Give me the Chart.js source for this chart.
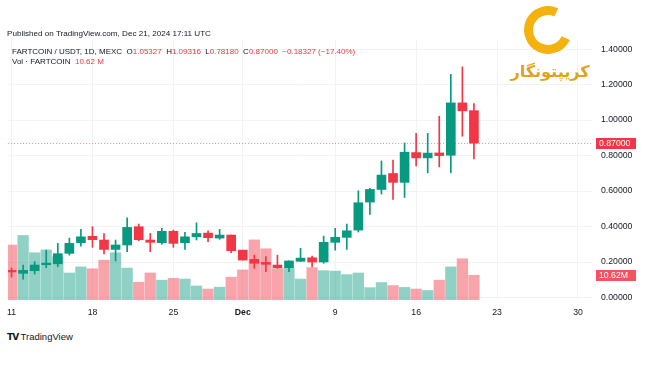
<!DOCTYPE html>
<html>
<head>
<meta charset="utf-8">
<script src="https://cdn.jsdelivr.net/npm/chart.js@4.4.1/dist/chart.umd.min.js"></script>
<style>
  body { margin: 0; width: 650px; height: 365px; background: #fff; position: relative; overflow: hidden;
         font-family: "Liberation Sans", Arial, sans-serif; color: #131722; }
  #wrap { position: absolute; left: 0; top: 0; width: 650px; height: 322px; }
  .txt { position: absolute; white-space: nowrap; line-height: 12px; z-index: 2; }
  .red { color: #f23645; }
  #logo { position: absolute; left: 524px; top: 6px; width: 30px; height: 30px; border: 9px solid #f5b10c;
          border-right-color: transparent; border-radius: 50%; transform: rotate(-20deg); z-index: 2; }
  #fa { position: absolute; left: 508px; top: 62px; width: 84px; text-align: center; font-family: "DejaVu Sans";
        font-weight: bold; font-size: 16px; color: #e3a21a; z-index: 2; direction: rtl; }
</style>
</head>
<body>
<div id="wrap"><canvas id="chart" width="650" height="322"></canvas></div>

<div class="txt" style="left:7px; top:28px; font-size:8.1px;">Published on TradingView.com, Dec 21, 2024 17:11 UTC</div>
<div class="txt" style="left:12px; top:46px; font-size:8px;">
  FARTCOIN / USDT, 1D, MEXC&nbsp;&nbsp;O<span class="red">1.05327</span>&nbsp;&nbsp;H<span class="red">1.09316</span>&nbsp;&nbsp;L<span class="red">0.78180</span>&nbsp;&nbsp;C<span class="red">0.87000</span>&nbsp;&nbsp;<span class="red">−0.18327 (−17.40%)</span>
</div>
<div class="txt" style="left:12px; top:56px; font-size:8px;">Vol · FARTCOIN&nbsp;&nbsp;<span class="red">10.62 M</span></div>

<div id="logo"></div>
<div id="fa">کریپتونگار</div>

<div class="txt" style="left:7px; top:331px; font-size:9.5px;"><b style="font-family:'DejaVu Sans'; font-size:9px; letter-spacing:-1px;">TV</b> TradingView</div>

<script>
let days = [
  "2024-11-11", "2024-11-12", "2024-11-13", "2024-11-14", "2024-11-15", "2024-11-16", "2024-11-17",
  "2024-11-18", "2024-11-19", "2024-11-20", "2024-11-21", "2024-11-22", "2024-11-23", "2024-11-24",
  "2024-11-25", "2024-11-26", "2024-11-27", "2024-11-28", "2024-11-29", "2024-11-30", "2024-12-01",
  "2024-12-02", "2024-12-03", "2024-12-04", "2024-12-05", "2024-12-06", "2024-12-07", "2024-12-08",
  "2024-12-09", "2024-12-10", "2024-12-11", "2024-12-12", "2024-12-13", "2024-12-14", "2024-12-15",
  "2024-12-16", "2024-12-17", "2024-12-18", "2024-12-19", "2024-12-20", "2024-12-21"
];
let opens  = [0.146, 0.136, 0.151, 0.185, 0.190, 0.249, 0.309, 0.345, 0.324, 0.271, 0.296, 0.399, 0.324, 0.309,
              0.373, 0.309, 0.342, 0.363, 0.335, 0.352, 0.267, 0.215, 0.198, 0.183, 0.168, 0.204, 0.224, 0.200,
              0.311, 0.339, 0.380, 0.538, 0.609, 0.699, 0.649, 0.817, 0.787, 0.815, 0.802, 1.097, 1.05327];
let highs  = [0.167, 0.183, 0.202, 0.267, 0.305, 0.335, 0.384, 0.399, 0.361, 0.324, 0.449, 0.414, 0.361, 0.390,
              0.380, 0.367, 0.421, 0.376, 0.384, 0.352, 0.267, 0.239, 0.230, 0.239, 0.206, 0.277, 0.234, 0.346,
              0.390, 0.414, 0.601, 0.615, 0.770, 0.774, 0.872, 0.925, 0.925, 1.022, 1.258, 1.300, 1.09316];
let lows   = [0.115, 0.104, 0.132, 0.168, 0.173, 0.239, 0.290, 0.283, 0.245, 0.206, 0.258, 0.320, 0.258, 0.300,
              0.283, 0.271, 0.324, 0.314, 0.328, 0.252, 0.211, 0.164, 0.145, 0.164, 0.145, 0.204, 0.173, 0.193,
              0.267, 0.271, 0.369, 0.468, 0.583, 0.553, 0.564, 0.742, 0.703, 0.736, 0.703, 0.909, 0.78180];
let closes = [0.144, 0.153, 0.183, 0.193, 0.247, 0.305, 0.342, 0.326, 0.271, 0.296, 0.395, 0.326, 0.311, 0.373,
              0.305, 0.342, 0.361, 0.337, 0.352, 0.264, 0.211, 0.193, 0.187, 0.168, 0.206, 0.222, 0.200, 0.311,
              0.339, 0.376, 0.534, 0.609, 0.690, 0.649, 0.819, 0.787, 0.814, 0.800, 1.097, 1.052, 0.87000];
// volume in millions of FARTCOIN
let volumes = [23.6, 27.7, 20.3, 21.5, 18.6, 11.6, 14.2, 13.4, 17.1, 20.3, 13.7, 7.6, 11.6, 8.5,
               9.3, 9.0, 6.0, 4.7, 5.5, 9.8, 12.9, 25.8, 22.0, 13.5, 13.7, 9.0, 13.9, 12.6,
               12.4, 10.9, 11.6, 5.3, 7.5, 6.2, 5.4, 4.7, 4.1, 8.5, 14.2, 17.7, 10.62];

let xTickDays = [0, 7, 14, 20, 28, 35, 42, 49];
let xTickLabels = ["11", "18", "25", "Dec", "9", "16", "23", "30"];
let yTickValues = [0, 0.2, 0.4, 0.6, 0.8, 1.0, 1.2, 1.4];

let upColor = "#089981";
let downColor = "#f23645";
let gridColor = "#f2f3f5";
let tickFont = "'Liberation Sans', Arial, sans-serif";

function isUp(i) {
  return closes[i] >= opens[i];
}

let candleColors = days.map((d, i) => isUp(i) ? upColor : downColor);
let volColors = days.map((d, i) => isUp(i) ? "rgba(8, 153, 129, 0.45)" : "rgba(242, 54, 69, 0.45)");

// last price line and the two red labels on the price scale
let lastLabels = {
  id: "lastLabels",
  beforeDatasetsDraw(chart) {
    let ctx = chart.ctx;
    let area = chart.chartArea;
    let y = Math.round(chart.scales.y.getPixelForValue(closes[closes.length - 1])) + 0.5;
    ctx.save();
    ctx.strokeStyle = "rgba(242, 54, 69, 0.55)";
    ctx.lineWidth = 1;
    ctx.setLineDash([1, 2]);
    ctx.beginPath();
    ctx.moveTo(area.left, y);
    ctx.lineTo(area.right, y);
    ctx.stroke();
    ctx.restore();
  },
  afterDraw(chart) {
    let ctx = chart.ctx;
    let area = chart.chartArea;
    let boxes = [
      { y: chart.scales.y.getPixelForValue(closes[closes.length - 1]), text: closes[closes.length - 1].toFixed(5), color: "#f23645" },
      { y: chart.scales.vol.getPixelForValue(volumes[volumes.length - 1]), text: volumes[volumes.length - 1].toFixed(2) + "M", color: "#f5525f" }
    ];
    ctx.save();
    ctx.font = "8.7px " + tickFont;
    ctx.textBaseline = "middle";
    boxes.forEach(b => {
      ctx.fillStyle = b.color;
      ctx.fillRect(area.right + 3, Math.round(b.y) - 5, 40, 11);
      ctx.fillStyle = "#fff";
      ctx.fillText(b.text, area.right + 6, Math.round(b.y) + 0.5);
    });
    ctx.restore();
  }
};

let ctx = document.getElementById("chart").getContext("2d");
let myChart = new Chart(ctx, {
  type: "bar",
  data: {
    datasets: [
      {
        data: days.map((d, i) => ({ x: i, y: volumes[i] })),
        yAxisID: "vol",
        backgroundColor: volColors,
        barThickness: 10.6,
        grouped: false,
        order: 3
      },
      {
        data: days.map((d, i) => ({ x: i, y: [lows[i], highs[i]] })),
        yAxisID: "y",
        backgroundColor: candleColors,
        barThickness: 1,
        grouped: false,
        order: 2
      },
      {
        data: days.map((d, i) => ({ x: i, y: [opens[i], closes[i]] })),
        yAxisID: "y",
        backgroundColor: candleColors,
        barThickness: 9,
        minBarLength: 1.5,
        grouped: false,
        order: 1
      }
    ]
  },
  options: {
    responsive: false,
    animation: false,
    layout: { padding: { left: 6.5, top: 40, right: 0, bottom: 0 } },
    plugins: {
      legend: { display: false },
      tooltip: { enabled: false }
    },
    scales: {
      x: {
        type: "linear",
        min: -0.3,
        max: 50.3,
        offset: false,
        grid: { color: gridColor, drawTicks: false, offset: false },
        border: { display: false },
        afterBuildTicks: scale => { scale.ticks = xTickDays.map(v => ({ value: v })); },
        afterFit: scale => { scale.height = 22; },
        ticks: {
          padding: 7,
          color: "#131722",
          maxRotation: 0,
          autoSkip: false,
          font: c => ({
            family: tickFont,
            size: 8.7,
            weight: c.tick && xTickLabels[xTickDays.indexOf(c.tick.value)] === "Dec" ? "bold" : "normal"
          }),
          callback: v => xTickLabels[xTickDays.indexOf(v)]
        }
      },
      y: {
        position: "right",
        min: -0.0141,
        max: 1.4515,
        grid: { color: gridColor, drawTicks: false },
        border: { display: false },
        afterBuildTicks: scale => { scale.ticks = yTickValues.map(v => ({ value: v })); },
        afterFit: scale => { scale.width = 57; },
        ticks: {
          padding: 8,
          color: "#131722",
          font: { family: tickFont, size: 8.7 },
          callback: v => v.toFixed(5)
        }
      },
      vol: {
        display: false,
        min: 0,
        max: 111.6
      }
    }
  },
  plugins: [lastLabels]
});
</script>
</body>
</html>
